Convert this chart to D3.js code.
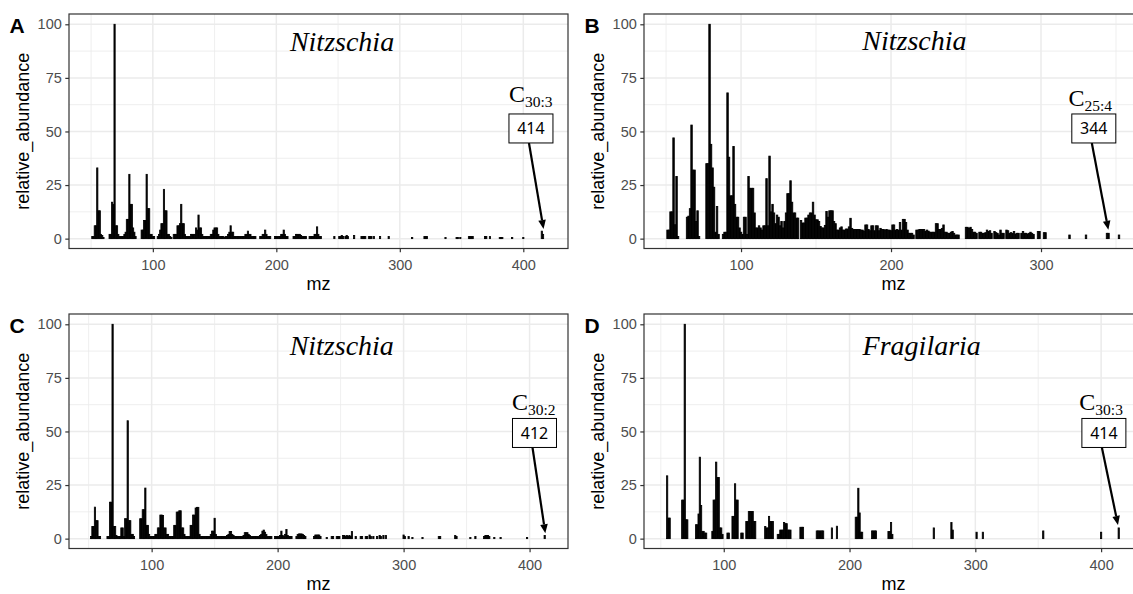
<!DOCTYPE html>
<html><head><meta charset="utf-8">
<script src="https://cdn.jsdelivr.net/npm/d3@7/dist/d3.min.js"></script>
<style>body{margin:0;background:#fff}svg{display:block}</style>
</head><body>
<svg id="chart" width="1133" height="594"></svg>
<script>
// ---------- data ----------
const panelLetters = ["A","B","C","D"];
const genusTitles = ["Nitzschia","Nitzschia","Nitzschia","Fragilaria"];
const ionLabels = ["414","344","412","414"];
const carbonSubs = ["30:3","25:4","30:2","30:3"];
const yTicks = [0,25,50,75,100];
const yMinor = [12.5,37.5,62.5,87.5];
const xTicksABCD = [[100,200,300,400],[100,200,300],[100,200,300,400],[100,200,300,400]];
const xMinor = [50,150,250,350];

const peaksA = [[51,1],[52,1],[53,6],[54,6],[55,33],[56,13],[57,13],[58,2],[59,1.5],[60,0.5],
[65,2],[66,2],[67,17],[68,16],[69,100],[70,6],[71,6],[72,2],[73,1],[74,1],[75,1],[76,1],
[77,2],[78,3],[79,9],[80,9],[81,30],[82,16],[83,16],[84,5],[85,3],[86,1],
[91,4],[92,4],[93,8.5],[94,8.5],[95,30],[96,14],[97,14],[98,2],[99,2],[100,1],[101,1],
[104,1],[105,2],[106,4],[107,7],[108,7],[109,23],[110,13],[111,13],[112,2],[113,2],[114,1],[115,0.5],
[117,2],[118,2],[119,2],[120,6],[121,6],[122,7],[123,16],[124,7],[125,7],[126,2],[127,1],[128,1],
[129,1],[130,1],[131,2],[132,2],[133,2],[134,2],[135,5],[136,4],[137,11],[138,5],[139,5],[140,2],[141,1],[142,1],
[143,1],[144,1],[145,1],[146,1],[147,2],[148,2],[149,4],[150,5],[151,5],[152,5],[153,2],[154,1],[155,1],
[156,1],[157,1],[158,0.5],[159,1],[160,1],[161,2],[162,3],[163,6],[164,3],[165,3],[166,1],[167,1],[168,1],
[169,1],[170,1],[171,1],[172,1],[173,1],[174,1],[175,2],[176,2],[177,3.5],[178,2],[179,2],[180,1],[181,1],[182,1],[183,1],
[187,1],[188,1],[189,2],[190,2],[191,4],[192,2],[193,1],[194,1],[195,1],
[199,1],[200,1],[201,1],[202,1],[203,1],[204,2],[205,2],[206,4],[207,2],[208,1],[209,1],
[214,1],[215,1],[216,2],[217,2],[218,2],[219,2],[220,1.5],[221,1],[222,1],[223,1],[224,1],
[227,1],[228,1],[229,1],[230,1],[231,2],[232,2],[233,5.5],[234,2],[235,1],[236,1],
[247,1],[251,1],[252,1],[253,1.5],[254,1],[256,1],[257,1.5],[258,1],[263,1.5],[269,1],[270,1],[271,1],[272,1],
[275,1],[276,1],[277,1],[279,1],[284,1],[291,1],
[310,0.5],[320,1],[321,1],[322,1],[337,0.5],[346,0.5],[347,0.5],[349,0.5],[356,1],[357,1],[358,1],[359,1],
[369,1],[370,1],[373,1],[381,0.5],[382,0.5],[383,0.5],[391,0.5],[400,0.5],[415,3.5],[416,2]];

const peaksB = [[51,4],[52,4],[53,12.5],[54,12.5],[55,47],[56,6.5],[57,29],[58,1],
[64,10],[65,10.5],[66,14],[67,53],[68,32],[69,32],[70,8],[71,13],[72,1],
[77,35],[78,35],[79,100],[80,44],[81,33],[82,24],[83,3],[84,15],[85,2],
[88,2],[89,3],[90,3],[91,68],[92,38],[93,20],[94,20],[95,43],[96,16],[97,10],[98,10],[99,5],[100,3],[101,2],[102,10],[103,10],[104,2],
[105,29],[106,23.5],[107,23.5],[108,23.5],[109,12],[110,5],[111,5],[112,6],[113,5],[114,4],[115,6],[116,6],
[117,28],[118,6],[119,38.5],[120,12.5],[121,16],[122,12],[123,7],[124,11],[125,10],[126,6],[127,8],[128,5],[129,8],[130,12],
[131,21],[132,21],[133,27],[134,17],[135,12],[136,12],[137,9.6],[138,9.6],
[140,8.5],[141,7.3],[142,7.3],[143,9.6],[144,9.6],[145,11],[146,12],[147,12],[148,17],[149,11],[150,8.8],[151,8.8],[152,8],
[153,5.7],[154,5],[155,5],[156,6.2],[157,12.7],[158,10],[159,13],[160,13],[161,13],[162,8],
[163,7],[164,4],[165,4],[166,5],[167,5.5],[168,4],[169,4],[170,4.5],[171,4.5],[172,5.5],[173,9.5],[174,4.8],[175,4.3],[176,4.3],
[177,4.3],[178,4.3],[179,4.3],[180,4],[181,4],[182,3.5],[183,6.4],[184,6.4],[185,4.3],[186,3.7],[187,6],[188,6],[189,3.7],[190,6],
[191,6],[192,3.7],[193,4.8],[194,4.3],[195,4.3],[196,4],[197,4.3],[198,4],[199,4],[200,3.7],[201,6.4],[202,6.4],[203,4],[204,4.3],
[205,4],[206,7.5],[207,4],[208,9],[209,9],[210,7.5],[211,4],[212,2.5],[213,2.5],[214,2.5],[215,1.7],
[217,4],[218,4],[219,4.3],[220,4.3],[221,4.3],[222,4.3],[223,3.5],[224,4],[225,3.5],[226,3],[227,3],[228,3],[229,3],[230,7],[231,7],
[232,4.3],[233,4.3],[234,4.8],[235,6.4],[236,3],[237,3],[238,2.5],[239,2.5],[240,3],[241,3.3],[242,2.5],[243,1.7],[244,1.7],[245,1.7],
[250,5.3],[251,5.3],[252,4.8],[253,5.3],[254,4.3],[255,3],[256,3],[257,2.5],
[259,3],[260,3],[261,2.5],[262,2.5],[263,2.8],[264,4],[265,3.3],[266,3.7],[267,2.5],[269,3.3],[270,2.8],[271,2.5],[272,1.7],[273,4],
[274,2.5],[275,2.5],[277,4],[278,3.7],[279,2.5],[280,2.8],[281,2.5],[282,3.3],[283,2.2],[284,2.5],[285,2.5],[287,2.5],[288,3.3],
[289,2.5],[290,2.5],[291,2.2],[292,2.5],[293,3],[294,2.5],[295,2],
[298,3.3],[299,3.3],[302,2.8],[303,2.8],[319,1.7],[330,1.7],[344,2.5],[345,2.5],[352,1.7]];

const peaksC = [[52,1],[53,5.7],[54,5.7],[55,14.7],[56,8.4],[57,8.4],[58,1],[59,1],
[65,1],[66,1],[67,17],[68,17],[69,100],[70,5.7],[71,5.7],[72,1.5],[73,1],[74,1],[75,1],[76,5],[77,5],[78,1],
[79,9.3],[80,9.3],[81,55],[82,8.4],[83,8.4],[84,2],[85,2],[86,1],
[91,9.3],[92,9.3],[93,13.5],[94,13.5],[95,23.6],[96,6.2],[97,6.2],[98,2],[99,1],[100,1],[101,1],[102,1],[103,2],[104,2],
[105,5],[106,5],[107,11],[108,11],[109,10.8],[110,5],[111,5],[112,2],[113,2],[114,1],[115,1],[116,1],[117,1],
[118,6.2],[119,6.2],[120,12.4],[121,12.4],[122,13],[123,13],[124,5],[125,5],[126,2],[127,1],[128,1],[129,1],[130,1],
[131,6.2],[132,6.2],[133,11],[134,11],[135,14.3],[136,14.6],[137,14.6],[138,2],[139,1],[140,1],[141,1],[142,1],[143,1],
[144,1],[145,1],[146,1],[147,2],[148,3.5],[149,3.5],[150,9.5],[151,2],[152,1],[153,1],[154,1],[155,1],[156,1],[157,1],
[158,1],[159,1],[160,1.5],[161,2],[162,3.3],[163,3.3],[164,2],[165,1.5],[166,1],[167,1],[168,1],[169,1],[170,1],[171,1],
[172,1],[173,1.5],[174,2.8],[175,2.8],[176,2.8],[177,2],[178,1.5],[179,1],[180,1],[181,1],[182,1],[183,1],[184,1],[185,1],
[186,1.5],[187,2],[188,3.5],[189,4],[190,3],[191,2],[192,1],[193,1],[194,1],[195,1],
[198,1],[199,1],[200,1],[201,1],[202,1.5],[203,3.5],[204,1.5],[205,1],[206,2],[207,4.3],[208,1.5],[209,1],[210,1],[211,1],
[215,1],[216,2],[217,2.2],[218,2.2],[219,2.2],[220,2],[221,1.5],[222,1],
[229,1],[230,1.7],[231,1.7],[232,1.7],[233,1.7],[234,1],
[239,0.5],[243,1],[244,1],[247,1],[248,1],[249,1],[252,1.5],[253,1.5],[254,1],[255,1.5],[256,1],[257,1.5],[258,1],[259,3.3],
[262,1],[266,1],[267,1],[270,1],[271,1],[273,1.7],[274,1],[276,1],[279,1],[281,1.5],[282,1],[284,1.5],[286,1.5],
[300,1.7],[301,1],[304,1],[307,0.5],[315,0.5],[328,1],[329,1],[341,1.5],[342,1],[353,0.5],[357,1],
[364,1],[365,1.5],[366,1.5],[367,1.5],[368,1],[372,0.5],[377,0.5],[398,0.5],[412,1.5]];

const peaksD = [[55,29.3],[56,9.6],[57,9.6],
[67,18],[68,18],[69,100],[70,8.8],[71,8.8],
[78,6.5],[79,6.5],[80,11.5],[81,38],[82,15.5],[83,3.4],[84,3.4],[85,2.6],[86,2.6],
[91,3.4],[92,18],[93,18],[94,35.7],[95,28.5],[96,28.5],[97,5],[98,5],[99,2],
[103,2.6],[104,2.6],[107,10.4],[108,10.4],[109,25.6],[110,18],[111,18],[114,2.6],[115,2.6],
[118,8],[119,8],[120,12.7],[121,12.7],[122,12.7],[123,12.7],[124,8],[125,8],
[133,5.7],[134,5],[135,5],[136,10.4],[137,8],[138,8],[139,8],[143,2],[144,2],
[145,4],[146,4],[147,4],[148,7.5],[149,7],[150,7],[151,4],[152,4],[153,4],
[161,5.3],[162,5.3],[163,5.3],
[174,3.6],[175,3.6],[176,3.6],[177,3.6],[178,3.6],[179,3.6],
[186,5],[190,5.8],
[205,10],[206,10],[207,23.5],[208,12],[209,3],[210,3],
[218,3.6],[219,3.6],[220,3.6],[221,3.6],
[231,3.3],[232,3.3],[233,7.5],[234,2],
[267,5],[281,7.5],[282,4],[301,3],[306,3],[354,3.6],[400,3],[414,5]];

// annotation anchors in data units [mz, relative_abundance]
const titlePositions = [[253.2,87.7],[215.6,88],[250.9,85.7],[257.4,85.7]];
const labelPositions = [[388.4,63.9],[318.3,61.9],[386,60],[382.7,60]];
const boxPositions = [[406.2,51.4],[335.2,51.4],[403.9,49.3],[402.2,49.3]];
const tipPositions = [[416.4,4.5],[344.9,4.1],[412.5,2.5],[413.4,6.4]];

// ---------- layout ----------
const allPeaks = [peaksA, peaksB, peaksC, peaksD];
const xDomains = [[32.1,436.2],[35.3,368],[34.4,430.5],[36.6,433.3]];
const yDomain = [-4.6,104.8];
const lefts = [69,644,69,644], tops = [14,14,314,314];
const W = 499, H = 234.5;

const svg = d3.select("#chart");
svg.append("rect").attr("width",1133).attr("height",594).attr("fill","#fff");

panelLetters.forEach((letter, i) => {
  const left = lefts[i], top = tops[i];
  const x = d3.scaleLinear().domain(xDomains[i]).range([left, left + W]);
  const y = d3.scaleLinear().domain(yDomain).range([top + H, top]);
  const g = svg.append("g");

  // grid
  const xMin = xMinor.filter(v => v > xDomains[i][0] && v < xDomains[i][1]);
  g.selectAll(".gxm").data(xMin).enter().append("line")
    .attr("x1", d => x(d)).attr("x2", d => x(d)).attr("y1", top).attr("y2", top + H)
    .attr("stroke", "#ebebeb").attr("stroke-width", 0.8);
  g.selectAll(".gym").data(yMinor).enter().append("line")
    .attr("x1", left).attr("x2", left + W).attr("y1", d => y(d)).attr("y2", d => y(d))
    .attr("stroke", "#ebebeb").attr("stroke-width", 0.8);
  g.selectAll(".gx").data(xTicksABCD[i]).enter().append("line")
    .attr("x1", d => x(d)).attr("x2", d => x(d)).attr("y1", top).attr("y2", top + H)
    .attr("stroke", "#ebebeb").attr("stroke-width", 1.5);
  g.selectAll(".gy").data(yTicks).enter().append("line")
    .attr("x1", left).attr("x2", left + W).attr("y1", d => y(d)).attr("y2", d => y(d))
    .attr("stroke", "#ebebeb").attr("stroke-width", 1.5);

  // bars
  g.selectAll(".bar").data(allPeaks[i]).enter().append("rect")
    .attr("x", d => x(d[0] - 0.5))
    .attr("width", d => x(d[0] + 0.5) - x(d[0] - 0.5))
    .attr("y", d => y(d[1]))
    .attr("height", d => y(0) - y(d[1]))
    .attr("fill", "#000").attr("stroke", "#000").attr("stroke-width", 0.8);

  // genus title
  g.append("text")
    .attr("x", x(titlePositions[i][0])).attr("y", y(titlePositions[i][1]))
    .attr("text-anchor", "middle")
    .attr("font-family", "'Liberation Serif','Times New Roman',serif")
    .attr("font-style", "italic").attr("font-size", 28).attr("fill", "#000")
    .text(genusTitles[i]);

  // carbon label with subscript
  const lt = g.append("text")
    .attr("x", x(labelPositions[i][0])).attr("y", y(labelPositions[i][1]))
    .attr("font-family", "'Liberation Serif','Times New Roman',serif")
    .attr("fill", "#000");
  lt.append("tspan").attr("font-size", 24).text("C");
  lt.append("tspan").attr("font-size", 15.5).attr("dy", 5).text(carbonSubs[i]);

  // arrow
  const bx = x(boxPositions[i][0]), by = y(boxPositions[i][1]);
  const bw = 44, bh = 29;
  const sx = bx - 2, sy = by + bh / 2;
  const tx = x(tipPositions[i][0]), ty = y(tipPositions[i][1]);
  const ang = Math.atan2(ty - sy, tx - sx);
  const hl = 9, hw = 3.8;
  const baseX = tx - hl * Math.cos(ang), baseY = ty - hl * Math.sin(ang);
  g.append("line").attr("x1", sx).attr("y1", sy).attr("x2", baseX).attr("y2", baseY)
    .attr("stroke", "#000").attr("stroke-width", 2.2);
  g.append("path")
    .attr("d", `M${tx},${ty}L${baseX + hw * Math.sin(ang)},${baseY - hw * Math.cos(ang)}L${baseX - hw * Math.sin(ang)},${baseY + hw * Math.cos(ang)}Z`)
    .attr("fill", "#000");

  // ion box
  g.append("rect").attr("x", bx - bw / 2).attr("y", by - bh / 2).attr("width", bw).attr("height", bh)
    .attr("fill", "#fff").attr("stroke", "#000").attr("stroke-width", 1);
  g.append("text").attr("x", bx).attr("y", by).attr("dy", "0.36em")
    .attr("text-anchor", "middle")
    .attr("font-family", "'Noto Sans','Liberation Sans',sans-serif")
    .attr("font-size", 16).attr("fill", "#000")
    .text(ionLabels[i]);

  // panel border
  g.append("rect").attr("x", left).attr("y", top).attr("width", W).attr("height", H)
    .attr("fill", "none").attr("stroke", "#333").attr("stroke-width", 1.2);

  // axes
  const xAxis = d3.axisBottom(x).tickValues(xTicksABCD[i]).tickSize(3.7).tickPadding(7.5).tickFormat(d3.format("d"));
  const xa = svg.append("g").attr("transform", `translate(0,${top + H})`).call(xAxis);
  const yAxis = d3.axisLeft(y).tickValues(yTicks).tickSize(3.7).tickPadding(3.5).tickFormat(d3.format("d"));
  const ya = svg.append("g").attr("transform", `translate(${left},0)`).call(yAxis);
  [xa, ya].forEach(a => {
    a.select(".domain").remove();
    a.selectAll(".tick line").attr("stroke", "#333").attr("stroke-width", 1.2);
    a.selectAll(".tick text").attr("fill", "#4d4d4d")
      .attr("font-family", "'Liberation Sans',Arial,sans-serif").attr("font-size", 14.5);
  });

  // axis titles
  svg.append("text").attr("x", left + W / 2).attr("y", top + H + 41.5)
    .attr("text-anchor", "middle").attr("font-family", "'Liberation Sans',Arial,sans-serif")
    .attr("font-size", 18).attr("fill", "#000").text("mz");
  svg.append("text").attr("transform", `translate(${left - 40},${top + H / 2}) rotate(-90)`)
    .attr("text-anchor", "middle").attr("font-family", "'Liberation Sans',Arial,sans-serif")
    .attr("font-size", 18).attr("fill", "#000").text("relative_abundance");

  // panel letter
  svg.append("text").attr("x", left - 59.5).attr("y", top + 19)
    .attr("font-family", "'Liberation Sans',Arial,sans-serif").attr("font-weight", "bold")
    .attr("font-size", 21).attr("fill", "#000").text(letter);
});
</script>
</body></html>
